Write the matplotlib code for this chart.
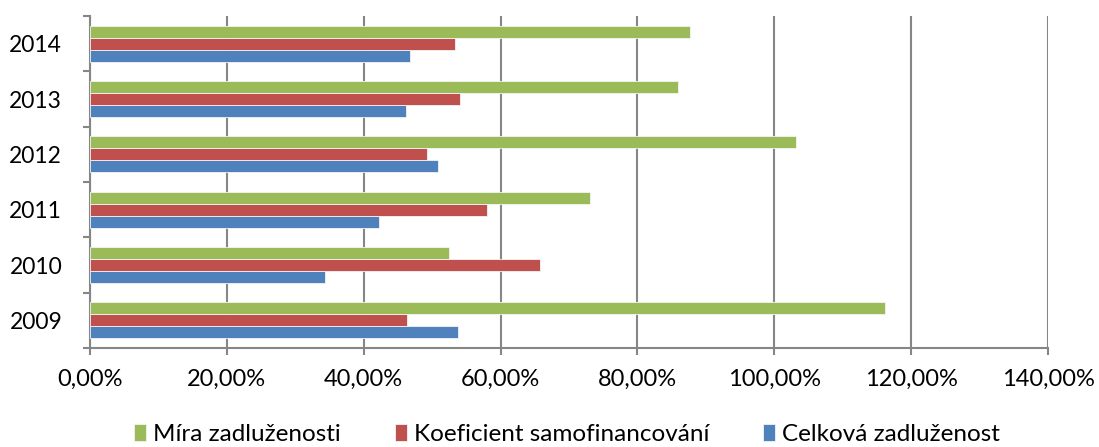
import matplotlib
matplotlib.use("Agg")
import matplotlib.pyplot as plt
from matplotlib.ticker import FuncFormatter, FixedLocator
import numpy as np

plt.rcParams['font.family'] = ['Lato', 'DejaVu Sans']

years = ['2009', '2010', '2011', '2012', '2013', '2014']
celkova = [0.538, 0.344, 0.422, 0.509, 0.462, 0.467]
koeficient = [0.463, 0.658, 0.580, 0.493, 0.540, 0.534]
mira = [1.162, 0.524, 0.730, 1.032, 0.859, 0.877]

names = ['Celková zadluženost', 'Koeficient samofinancování', 'Míra zadluženosti']
colors = ['#4F81BD', '#C0504D', '#9BBB59']
GRID = '#868686'

fig = plt.figure(figsize=(10.99, 4.47), dpi=100)
ax = fig.add_axes([90 / 1099, 99 / 447, 958 / 1099, 332 / 447])

y = np.arange(len(years))
h = 0.218
bars = []
for i, (vals, name, c) in enumerate(zip([celkova, koeficient, mira], names, colors)):
    b = ax.barh(y + (i - 1) * h, vals, height=h, color=c, label=name,
                edgecolor='#f4f4f4', linewidth=0.6, zorder=3)
    bars.append(b)

ax.set_xlim(0, 1.4)
ax.set_ylim(-0.5, len(years) - 0.5)
ax.set_xticks(np.arange(0, 1.41, 0.2))
ax.xaxis.set_major_formatter(FuncFormatter(lambda v, p: f"{v * 100:.2f}%".replace('.', ',')))
ax.set_yticks(y)
ax.set_yticklabels(years)
ax.yaxis.set_minor_locator(FixedLocator(np.arange(-0.5, len(years), 1.0)))

ax.grid(axis='x', color=GRID, linewidth=1.5, zorder=0)
for s in ['top', 'right']:
    ax.spines[s].set_visible(False)
for s in ['left', 'bottom']:
    ax.spines[s].set_color(GRID)
    ax.spines[s].set_linewidth(1.5)

ax.tick_params(axis='x', length=5, width=1.5, color=GRID, pad=10, labelsize=17)
ax.tick_params(axis='y', which='major', length=0, pad=20, labelsize=16.5)
ax.tick_params(axis='y', which='minor', length=5, width=1.5, color=GRID)

handles = [bars[2], bars[1], bars[0]]
fig.legend(handles, [names[2], names[1], names[0]], loc='center',
           bbox_to_anchor=(0.516, 0.028), ncol=3, frameon=False, fontsize=17.5,
           handlelength=0.5, handleheight=0.7, handletextpad=0.3,
           columnspacing=2.2, borderpad=0.1)

fig.savefig('out.png', dpi=100)
